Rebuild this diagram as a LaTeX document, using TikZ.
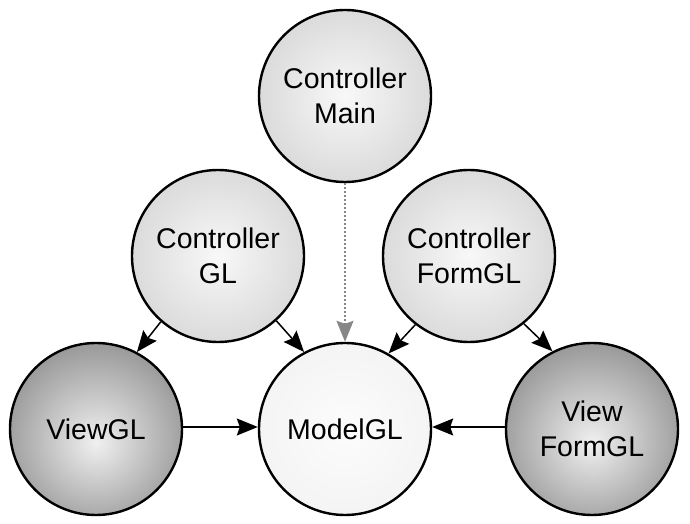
\documentclass[tikz,border=0pt]{standalone}
\usepackage{fontspec}
\setmainfont{Liberation Sans}
\usetikzlibrary{arrows.meta}
\definecolor{lin}{RGB}{248,248,248}
\definecolor{lout}{RGB}{190,190,190}
\definecolor{din}{RGB}{240,240,240}
\definecolor{dout}{RGB}{82,82,82}
\definecolor{min}{RGB}{252,252,252}
\definecolor{mout}{RGB}{236,236,236}
\definecolor{dotgray}{RGB}{135,135,135}
\pgfdeclareradialshading{lightball}{\pgfpoint{0bp}{0bp}}{color(0bp)=(lin); color(50bp)=(lout); color(72bp)=(lout)}
\pgfdeclareradialshading{darkball}{\pgfpoint{0bp}{-4bp}}{color(0bp)=(din); color(50bp)=(dout); color(76bp)=(dout)}
\pgfdeclareradialshading{modelball}{\pgfpoint{0bp}{0bp}}{color(0bp)=(min); color(50bp)=(mout); color(72bp)=(mout)}
\tikzset{
  ball/.style={circle, draw=black, line width=2.4pt, minimum size=172pt, inner sep=0pt,
    align=center, font=\fontsize{28.5}{35}\selectfont},
  lightnode/.style={ball, shading=lightball},
  darknode/.style={ball, shading=darkball},
  modelnode/.style={ball, shading=modelball},
  conn/.style={line width=1.5pt, -{Stealth[length=21pt,width=17pt,inset=3pt]}},
  dotconn/.style={line width=1.5pt, dotgray, dash pattern=on 2pt off 2pt,
    -{Stealth[length=21pt,width=17pt,inset=3pt,fill=dotgray]}}
}
\begin{document}
\begin{tikzpicture}[x=1pt,y=1pt]
\useasboundingbox (0,0) rectangle (690,524);
\node[lightnode] (cm) at (345,428) {Controller\\Main};
\node[lightnode] (cgl) at (218,268) {Controller\\GL};
\node[lightnode] (cfgl) at (469,268) {Controller\\FormGL};
\node[darknode] (vgl) at (96,95) {ViewGL};
\node[modelnode] (mgl) at (345,95) {ModelGL};
\node[darknode] (vfgl) at (592,95) {View\\FormGL};
\draw[dotconn] (cm.south) -- (mgl.north);
\draw[conn] (cgl.229) -- (vgl.62);
\draw[conn] (cgl.312) -- (mgl.118);
\draw[conn] (cfgl.232) -- (mgl.60);
\draw[conn] (cfgl.309) -- (vfgl.117);
\draw[conn] ([yshift=2pt]vgl.east) -- ([yshift=2pt]mgl.west);
\draw[conn] ([yshift=2pt]vfgl.west) -- ([yshift=2pt]mgl.east);
\end{tikzpicture}
\end{document}
